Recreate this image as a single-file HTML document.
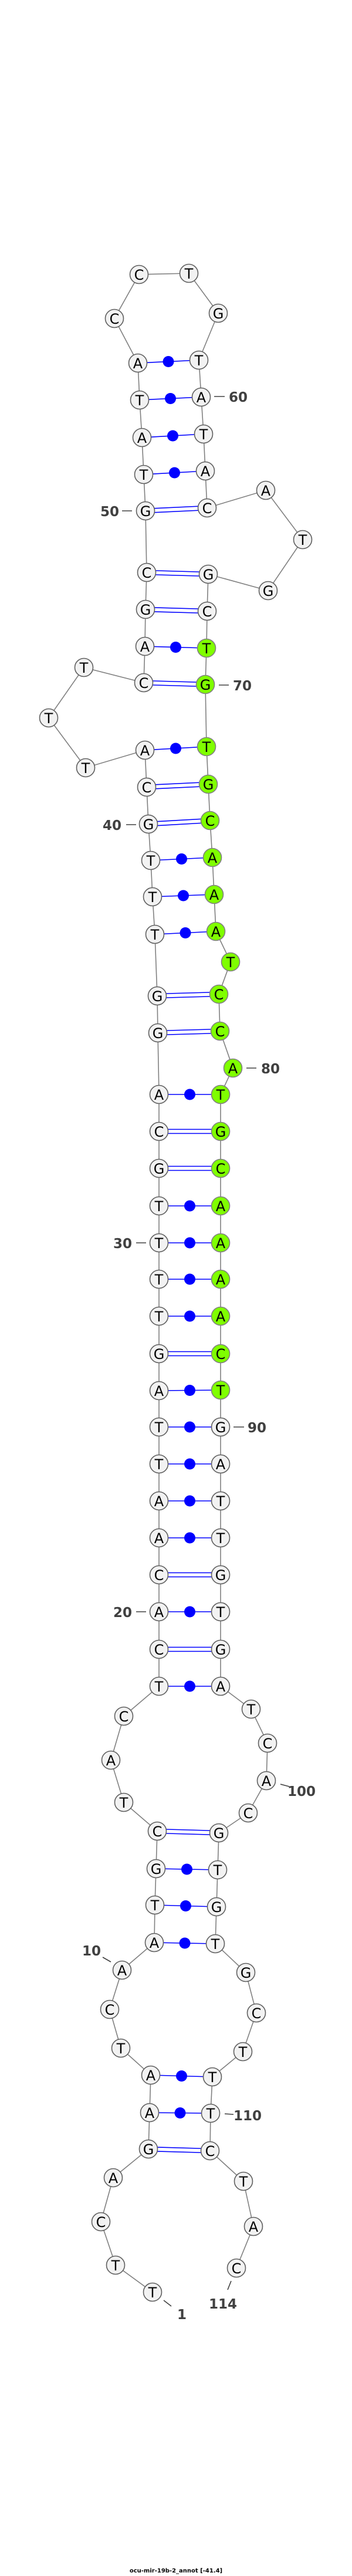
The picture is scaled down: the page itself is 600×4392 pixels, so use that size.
<!DOCTYPE html>
<html><head><meta charset="utf-8"><style>
html,body{margin:0;padding:0;background:#fff}
svg{display:block}
.bb{fill:none;stroke:#808080;stroke-width:1.6}
.p{stroke:#0000ff;stroke-width:1.6}
.d{fill:#0000ff}
.n circle{fill:#f2f2f2;stroke:#606060;stroke-width:1.6}
.n.g circle{fill:#7fff00;stroke:#808080}
.n text{font-family:"DejaVu Sans","Liberation Sans",sans-serif;font-size:24px;text-anchor:middle;fill:#000}
.lb{font-family:"DejaVu Sans","Liberation Sans",sans-serif;font-size:23px;font-weight:bold;fill:#404040}
.tk{stroke:#404040;stroke-width:1.6}
</style></head><body>
<svg width="600" height="4392" viewBox="0 0 600 4392" xmlns="http://www.w3.org/2000/svg">
<polyline class="bb" points="260,3908 197,3862 172,3788 193,3713 253,3664 255,3602 257,3538 206,3492 187,3426 208,3359 263,3312 264,3248 266,3186 268,3122 211,3073 189,3001 211,2926 271,2875 271,2812 271,2748 271,2685 271,2622 271,2559 271,2496 271,2433 271,2371 271,2308 271,2244 271,2181 271,2119 271,2056 271,1992 271,1929 271,1866 269,1761 268,1698 264,1593 260,1529 257,1467 253,1405 250,1342 247,1279 146,1309 83,1224 143,1138 245,1164 247,1102 248,1039 250,976 248,871 245,809 242,746 238,682 235,619 195,543 237,468 322,466 372,534 339,614 343,677 347,740 350,803 353,866 453,836 516,920 457,1007 355,979 353,1042 352,1105 350,1167 352,1273 355,1337 358,1399 362,1462 365,1525 368,1588 393,1640 373,1695 375,1758 397,1821 376,1866 376,1929 376,1992 376,2056 376,2119 376,2181 376,2244 376,2308 376,2370 376,2433 376,2496 376,2559 376,2622 376,2685 376,2748 376,2812 376,2875 428,2914 456,2972 454,3036 423,3091 373,3125 371,3188 369,3251 367,3314 419,3363 437,3432 414,3498 362,3541 359,3603 358,3667 415,3719 432,3796 403,3867"/>
<!-- double pairs -->
<g class="p">
<line x1="253" y1="3660.5" x2="358" y2="3663.5"/><line x1="253" y1="3667.5" x2="358" y2="3670.5"/>
<line x1="268" y1="3118.5" x2="373" y2="3121.5"/><line x1="268" y1="3125.5" x2="373" y2="3128.5"/>
<line x1="271" y1="2808.5" x2="376" y2="2808.5"/><line x1="271" y1="2815.5" x2="376" y2="2815.5"/>
<line x1="271" y1="2681.5" x2="376" y2="2681.5"/><line x1="271" y1="2688.5" x2="376" y2="2688.5"/>
<line x1="271" y1="2304.5" x2="376" y2="2304.5"/><line x1="271" y1="2311.5" x2="376" y2="2311.5"/>
<line x1="271" y1="1988.5" x2="376" y2="1988.5"/><line x1="271" y1="1995.5" x2="376" y2="1995.5"/>
<line x1="271" y1="1925.5" x2="376" y2="1925.5"/><line x1="271" y1="1932.5" x2="376" y2="1932.5"/>
<line x1="269" y1="1757.5" x2="375" y2="1754.5"/><line x1="269" y1="1764.5" x2="375" y2="1761.5"/>
<line x1="268" y1="1694.5" x2="373" y2="1691.5"/><line x1="268" y1="1701.5" x2="373" y2="1698.5"/>
<line x1="253" y1="1401.5" x2="358" y2="1395.5"/><line x1="253" y1="1408.5" x2="358" y2="1402.5"/>
<line x1="250" y1="1338.5" x2="355" y2="1333.5"/><line x1="250" y1="1345.5" x2="355" y2="1340.5"/>
<line x1="245" y1="1160.5" x2="350" y2="1163.5"/><line x1="245" y1="1167.5" x2="350" y2="1170.5"/>
<line x1="248" y1="1035.5" x2="353" y2="1038.5"/><line x1="248" y1="1042.5" x2="353" y2="1045.5"/>
<line x1="250" y1="972.5" x2="355" y2="975.5"/><line x1="250" y1="979.5" x2="355" y2="982.5"/>
<line x1="248" y1="867.5" x2="353" y2="862.5"/><line x1="248" y1="874.5" x2="353" y2="869.5"/>
</g>
<!-- dot pairs -->
<g class="p">
<line x1="255" y1="3602" x2="359" y2="3603"/><line x1="257" y1="3538" x2="362" y2="3541"/>
<line x1="263" y1="3312" x2="367" y2="3314"/><line x1="264" y1="3248" x2="369" y2="3251"/>
<line x1="266" y1="3186" x2="371" y2="3188"/><line x1="271" y1="2875" x2="376" y2="2875"/>
<line x1="271" y1="2748" x2="376" y2="2748"/><line x1="271" y1="2622" x2="376" y2="2622"/>
<line x1="271" y1="2559" x2="376" y2="2559"/><line x1="271" y1="2496" x2="376" y2="2496"/>
<line x1="271" y1="2433" x2="376" y2="2433"/><line x1="271" y1="2371" x2="376" y2="2370"/>
<line x1="271" y1="2244" x2="376" y2="2244"/><line x1="271" y1="2181" x2="376" y2="2181"/>
<line x1="271" y1="2119" x2="376" y2="2119"/><line x1="271" y1="2056" x2="376" y2="2056"/>
<line x1="271" y1="1866" x2="376" y2="1866"/><line x1="264" y1="1593" x2="368" y2="1588"/>
<line x1="260" y1="1529" x2="365" y2="1525"/><line x1="257" y1="1467" x2="362" y2="1462"/>
<line x1="247" y1="1279" x2="352" y2="1273"/><line x1="247" y1="1102" x2="352" y2="1105"/>
<line x1="245" y1="809" x2="350" y2="803"/><line x1="242" y1="746" x2="347" y2="740"/>
<line x1="238" y1="682" x2="343" y2="677"/><line x1="235" y1="619" x2="339" y2="614"/>
</g>
<g class="d">
<circle cx="307" cy="3602.5" r="9.5"/><circle cx="309.5" cy="3539.5" r="9.5"/>
<circle cx="315" cy="3313" r="9.5"/><circle cx="316.5" cy="3249.5" r="9.5"/>
<circle cx="318.5" cy="3187" r="9.5"/><circle cx="323.5" cy="2875" r="9.5"/>
<circle cx="323.5" cy="2748" r="9.5"/><circle cx="323.5" cy="2622" r="9.5"/>
<circle cx="323.5" cy="2559" r="9.5"/><circle cx="323.5" cy="2496" r="9.5"/>
<circle cx="323.5" cy="2433" r="9.5"/><circle cx="323.5" cy="2370.5" r="9.5"/>
<circle cx="323.5" cy="2244" r="9.5"/><circle cx="323.5" cy="2181" r="9.5"/>
<circle cx="323.5" cy="2119" r="9.5"/><circle cx="323.5" cy="2056" r="9.5"/>
<circle cx="323.5" cy="1866" r="9.5"/><circle cx="316" cy="1590.5" r="9.5"/>
<circle cx="312.5" cy="1527" r="9.5"/><circle cx="309.5" cy="1464.5" r="9.5"/>
<circle cx="299.5" cy="1276" r="9.5"/><circle cx="299.5" cy="1103.5" r="9.5"/>
<circle cx="297.5" cy="806" r="9.5"/><circle cx="294.5" cy="743" r="9.5"/>
<circle cx="290.5" cy="679.5" r="9.5"/><circle cx="287" cy="616.5" r="9.5"/>
</g>
<!-- nodes -->
<g class="n"><circle cx="260" cy="3908" r="15.5"/><text x="260" y="3917">T</text></g>
<g class="n"><circle cx="197" cy="3862" r="15.5"/><text x="197" y="3871">T</text></g>
<g class="n"><circle cx="172" cy="3788" r="15.5"/><text x="172" y="3797">C</text></g>
<g class="n"><circle cx="193" cy="3713" r="15.5"/><text x="193" y="3722">A</text></g>
<g class="n"><circle cx="253" cy="3664" r="15.5"/><text x="253" y="3673">G</text></g>
<g class="n"><circle cx="255" cy="3602" r="15.5"/><text x="255" y="3611">A</text></g>
<g class="n"><circle cx="257" cy="3538" r="15.5"/><text x="257" y="3547">A</text></g>
<g class="n"><circle cx="206" cy="3492" r="15.5"/><text x="206" y="3501">T</text></g>
<g class="n"><circle cx="187" cy="3426" r="15.5"/><text x="187" y="3435">C</text></g>
<g class="n"><circle cx="208" cy="3359" r="15.5"/><text x="208" y="3368">A</text></g>
<g class="n"><circle cx="263" cy="3312" r="15.5"/><text x="263" y="3321">A</text></g>
<g class="n"><circle cx="264" cy="3248" r="15.5"/><text x="264" y="3257">T</text></g>
<g class="n"><circle cx="266" cy="3186" r="15.5"/><text x="266" y="3195">G</text></g>
<g class="n"><circle cx="268" cy="3122" r="15.5"/><text x="268" y="3131">C</text></g>
<g class="n"><circle cx="211" cy="3073" r="15.5"/><text x="211" y="3082">T</text></g>
<g class="n"><circle cx="189" cy="3001" r="15.5"/><text x="189" y="3010">A</text></g>
<g class="n"><circle cx="211" cy="2926" r="15.5"/><text x="211" y="2935">C</text></g>
<g class="n"><circle cx="271" cy="2875" r="15.5"/><text x="271" y="2884">T</text></g>
<g class="n"><circle cx="271" cy="2812" r="15.5"/><text x="271" y="2821">C</text></g>
<g class="n"><circle cx="271" cy="2748" r="15.5"/><text x="271" y="2757">A</text></g>
<g class="n"><circle cx="271" cy="2685" r="15.5"/><text x="271" y="2694">C</text></g>
<g class="n"><circle cx="271" cy="2622" r="15.5"/><text x="271" y="2631">A</text></g>
<g class="n"><circle cx="271" cy="2559" r="15.5"/><text x="271" y="2568">A</text></g>
<g class="n"><circle cx="271" cy="2496" r="15.5"/><text x="271" y="2505">T</text></g>
<g class="n"><circle cx="271" cy="2433" r="15.5"/><text x="271" y="2442">T</text></g>
<g class="n"><circle cx="271" cy="2371" r="15.5"/><text x="271" y="2380">A</text></g>
<g class="n"><circle cx="271" cy="2308" r="15.5"/><text x="271" y="2317">G</text></g>
<g class="n"><circle cx="271" cy="2244" r="15.5"/><text x="271" y="2253">T</text></g>
<g class="n"><circle cx="271" cy="2181" r="15.5"/><text x="271" y="2190">T</text></g>
<g class="n"><circle cx="271" cy="2119" r="15.5"/><text x="271" y="2128">T</text></g>
<g class="n"><circle cx="271" cy="2056" r="15.5"/><text x="271" y="2065">T</text></g>
<g class="n"><circle cx="271" cy="1992" r="15.5"/><text x="271" y="2001">G</text></g>
<g class="n"><circle cx="271" cy="1929" r="15.5"/><text x="271" y="1938">C</text></g>
<g class="n"><circle cx="271" cy="1866" r="15.5"/><text x="271" y="1875">A</text></g>
<g class="n"><circle cx="269" cy="1761" r="15.5"/><text x="269" y="1770">G</text></g>
<g class="n"><circle cx="268" cy="1698" r="15.5"/><text x="268" y="1707">G</text></g>
<g class="n"><circle cx="264" cy="1593" r="15.5"/><text x="264" y="1602">T</text></g>
<g class="n"><circle cx="260" cy="1529" r="15.5"/><text x="260" y="1538">T</text></g>
<g class="n"><circle cx="257" cy="1467" r="15.5"/><text x="257" y="1476">T</text></g>
<g class="n"><circle cx="253" cy="1405" r="15.5"/><text x="253" y="1414">G</text></g>
<g class="n"><circle cx="250" cy="1342" r="15.5"/><text x="250" y="1351">C</text></g>
<g class="n"><circle cx="247" cy="1279" r="15.5"/><text x="247" y="1288">A</text></g>
<g class="n"><circle cx="146" cy="1309" r="15.5"/><text x="146" y="1318">T</text></g>
<g class="n"><circle cx="83" cy="1224" r="15.5"/><text x="83" y="1233">T</text></g>
<g class="n"><circle cx="143" cy="1138" r="15.5"/><text x="143" y="1147">T</text></g>
<g class="n"><circle cx="245" cy="1164" r="15.5"/><text x="245" y="1173">C</text></g>
<g class="n"><circle cx="247" cy="1102" r="15.5"/><text x="247" y="1111">A</text></g>
<g class="n"><circle cx="248" cy="1039" r="15.5"/><text x="248" y="1048">G</text></g>
<g class="n"><circle cx="250" cy="976" r="15.5"/><text x="250" y="985">C</text></g>
<g class="n"><circle cx="248" cy="871" r="15.5"/><text x="248" y="880">G</text></g>
<g class="n"><circle cx="245" cy="809" r="15.5"/><text x="245" y="818">T</text></g>
<g class="n"><circle cx="242" cy="746" r="15.5"/><text x="242" y="755">A</text></g>
<g class="n"><circle cx="238" cy="682" r="15.5"/><text x="238" y="691">T</text></g>
<g class="n"><circle cx="235" cy="619" r="15.5"/><text x="235" y="628">A</text></g>
<g class="n"><circle cx="195" cy="543" r="15.5"/><text x="195" y="552">C</text></g>
<g class="n"><circle cx="237" cy="468" r="15.5"/><text x="237" y="477">C</text></g>
<g class="n"><circle cx="322" cy="466" r="15.5"/><text x="322" y="475">T</text></g>
<g class="n"><circle cx="372" cy="534" r="15.5"/><text x="372" y="543">G</text></g>
<g class="n"><circle cx="339" cy="614" r="15.5"/><text x="339" y="623">T</text></g>
<g class="n"><circle cx="343" cy="677" r="15.5"/><text x="343" y="686">A</text></g>
<g class="n"><circle cx="347" cy="740" r="15.5"/><text x="347" y="749">T</text></g>
<g class="n"><circle cx="350" cy="803" r="15.5"/><text x="350" y="812">A</text></g>
<g class="n"><circle cx="353" cy="866" r="15.5"/><text x="353" y="875">C</text></g>
<g class="n"><circle cx="453" cy="836" r="15.5"/><text x="453" y="845">A</text></g>
<g class="n"><circle cx="516" cy="920" r="15.5"/><text x="516" y="929">T</text></g>
<g class="n"><circle cx="457" cy="1007" r="15.5"/><text x="457" y="1016">G</text></g>
<g class="n"><circle cx="355" cy="979" r="15.5"/><text x="355" y="988">G</text></g>
<g class="n"><circle cx="353" cy="1042" r="15.5"/><text x="353" y="1051">C</text></g>
<g class="n g"><circle cx="352" cy="1105" r="15.5"/><text x="352" y="1114">T</text></g>
<g class="n g"><circle cx="350" cy="1167" r="15.5"/><text x="350" y="1176">G</text></g>
<g class="n g"><circle cx="352" cy="1273" r="15.5"/><text x="352" y="1282">T</text></g>
<g class="n g"><circle cx="355" cy="1337" r="15.5"/><text x="355" y="1346">G</text></g>
<g class="n g"><circle cx="358" cy="1399" r="15.5"/><text x="358" y="1408">C</text></g>
<g class="n g"><circle cx="362" cy="1462" r="15.5"/><text x="362" y="1471">A</text></g>
<g class="n g"><circle cx="365" cy="1525" r="15.5"/><text x="365" y="1534">A</text></g>
<g class="n g"><circle cx="368" cy="1588" r="15.5"/><text x="368" y="1597">A</text></g>
<g class="n g"><circle cx="393" cy="1640" r="15.5"/><text x="393" y="1649">T</text></g>
<g class="n g"><circle cx="373" cy="1695" r="15.5"/><text x="373" y="1704">C</text></g>
<g class="n g"><circle cx="375" cy="1758" r="15.5"/><text x="375" y="1767">C</text></g>
<g class="n g"><circle cx="397" cy="1821" r="15.5"/><text x="397" y="1830">A</text></g>
<g class="n g"><circle cx="376" cy="1866" r="15.5"/><text x="376" y="1875">T</text></g>
<g class="n g"><circle cx="376" cy="1929" r="15.5"/><text x="376" y="1938">G</text></g>
<g class="n g"><circle cx="376" cy="1992" r="15.5"/><text x="376" y="2001">C</text></g>
<g class="n g"><circle cx="376" cy="2056" r="15.5"/><text x="376" y="2065">A</text></g>
<g class="n g"><circle cx="376" cy="2119" r="15.5"/><text x="376" y="2128">A</text></g>
<g class="n g"><circle cx="376" cy="2181" r="15.5"/><text x="376" y="2190">A</text></g>
<g class="n g"><circle cx="376" cy="2244" r="15.5"/><text x="376" y="2253">A</text></g>
<g class="n g"><circle cx="376" cy="2308" r="15.5"/><text x="376" y="2317">C</text></g>
<g class="n g"><circle cx="376" cy="2370" r="15.5"/><text x="376" y="2379">T</text></g>
<g class="n"><circle cx="376" cy="2433" r="15.5"/><text x="376" y="2442">G</text></g>
<g class="n"><circle cx="376" cy="2496" r="15.5"/><text x="376" y="2505">A</text></g>
<g class="n"><circle cx="376" cy="2559" r="15.5"/><text x="376" y="2568">T</text></g>
<g class="n"><circle cx="376" cy="2622" r="15.5"/><text x="376" y="2631">T</text></g>
<g class="n"><circle cx="376" cy="2685" r="15.5"/><text x="376" y="2694">G</text></g>
<g class="n"><circle cx="376" cy="2748" r="15.5"/><text x="376" y="2757">T</text></g>
<g class="n"><circle cx="376" cy="2812" r="15.5"/><text x="376" y="2821">G</text></g>
<g class="n"><circle cx="376" cy="2875" r="15.5"/><text x="376" y="2884">A</text></g>
<g class="n"><circle cx="428" cy="2914" r="15.5"/><text x="428" y="2923">T</text></g>
<g class="n"><circle cx="456" cy="2972" r="15.5"/><text x="456" y="2981">C</text></g>
<g class="n"><circle cx="454" cy="3036" r="15.5"/><text x="454" y="3045">A</text></g>
<g class="n"><circle cx="423" cy="3091" r="15.5"/><text x="423" y="3100">C</text></g>
<g class="n"><circle cx="373" cy="3125" r="15.5"/><text x="373" y="3134">G</text></g>
<g class="n"><circle cx="371" cy="3188" r="15.5"/><text x="371" y="3197">T</text></g>
<g class="n"><circle cx="369" cy="3251" r="15.5"/><text x="369" y="3260">G</text></g>
<g class="n"><circle cx="367" cy="3314" r="15.5"/><text x="367" y="3323">T</text></g>
<g class="n"><circle cx="419" cy="3363" r="15.5"/><text x="419" y="3372">G</text></g>
<g class="n"><circle cx="437" cy="3432" r="15.5"/><text x="437" y="3441">C</text></g>
<g class="n"><circle cx="414" cy="3498" r="15.5"/><text x="414" y="3507">T</text></g>
<g class="n"><circle cx="362" cy="3541" r="15.5"/><text x="362" y="3550">T</text></g>
<g class="n"><circle cx="359" cy="3603" r="15.5"/><text x="359" y="3612">T</text></g>
<g class="n"><circle cx="358" cy="3667" r="15.5"/><text x="358" y="3676">C</text></g>
<g class="n"><circle cx="415" cy="3719" r="15.5"/><text x="415" y="3728">T</text></g>
<g class="n"><circle cx="432" cy="3796" r="15.5"/><text x="432" y="3805">A</text></g>
<g class="n"><circle cx="403" cy="3867" r="15.5"/><text x="403" y="3876">C</text></g>
<!-- labels -->
<g class="tk">
<line x1="365" y1="676" x2="383" y2="676"/>
<line x1="208" y1="871" x2="225" y2="871"/>
<line x1="373" y1="1168" x2="390" y2="1168"/>
<line x1="215" y1="1406" x2="232" y2="1406"/>
<line x1="420" y1="1821" x2="437" y2="1821"/>
<line x1="232" y1="2119" x2="249" y2="2119"/>
<line x1="398" y1="2433" x2="416" y2="2433"/>
<line x1="232" y1="2748" x2="249" y2="2748"/>
<line x1="478" y1="3042" x2="493" y2="3046"/>
<line x1="175" y1="3337" x2="189" y2="3345"/>
<line x1="383" y1="3604" x2="398" y2="3605"/>
<line x1="279" y1="3922" x2="292" y2="3932"/>
<line x1="394" y1="3889" x2="388" y2="3904"/>
</g>
<text class="lb" x="390" y="685">60</text>
<text class="lb" x="203" y="880" text-anchor="end">50</text>
<text class="lb" x="397" y="1177">70</text>
<text class="lb" x="207" y="1415" text-anchor="end">40</text>
<text class="lb" x="445" y="1830">80</text>
<text class="lb" x="225" y="2128" text-anchor="end">30</text>
<text class="lb" x="422" y="2442">90</text>
<text class="lb" x="225" y="2757" text-anchor="end">20</text>
<text class="lb" x="490" y="3062">100</text>
<text class="lb" x="172" y="3334" text-anchor="end">10</text>
<text class="lb" x="398" y="3615">110</text>
<text class="lb" x="310" y="3954" text-anchor="middle">1</text>
<text class="lb" x="380" y="3936" text-anchor="middle">114</text>
<text x="300" y="4386" text-anchor="middle" style="font-family:'DejaVu Sans','Liberation Sans',sans-serif;font-size:10px;font-weight:bold;fill:#000">ocu-mir-19b-2_annot [-41.4]</text>
</svg>
</body></html>
